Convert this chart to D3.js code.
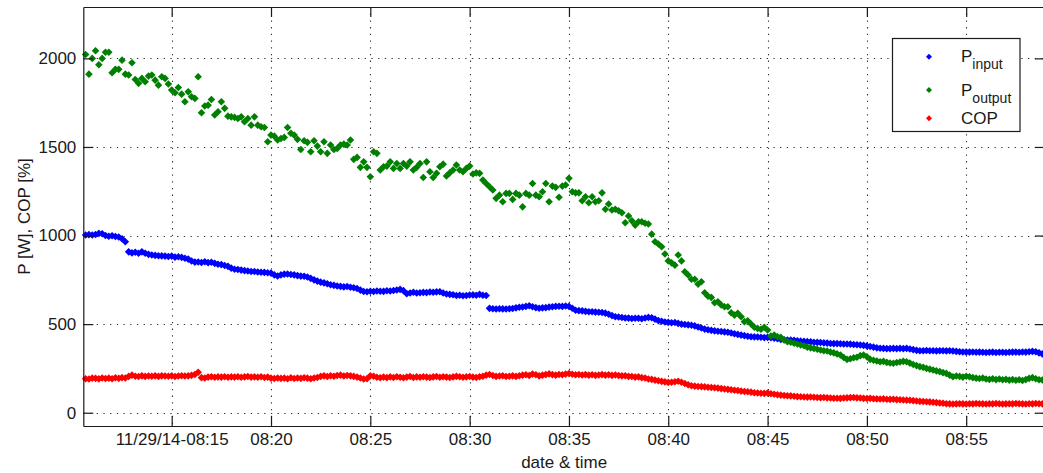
<!DOCTYPE html>
<html>
<head>
<meta charset="utf-8">
<script src="https://cdn.jsdelivr.net/npm/d3@7"></script>
<style>
  body { margin: 0; background: #fff; }
  text { font-family: "Liberation Sans", Arial, sans-serif; fill: #1a1a1a; }
</style>
</head>
<body>
<div class="draw"></div>
<script>
// samples every 10 s starting 11/29/14 08:10:40
const startTime = new Date(2014, 10, 29, 8, 10, 40);
const stepSeconds = 10;

const pInput = [
  1003,1005,1003,1006,1012,1010,1000,996,999,995,
  992,982,965,908,902,906,900,908,900,894,
  890,888,886,885,884,882,884,878,880,877,
  872,867,856,850,851,848,852,847,849,843,
  838,836,831,826,816,810,808,805,802,800,
  797,797,794,793,792,790,788,778,772,778,
  782,783,780,778,774,771,770,766,758,750,
  743,737,733,728,722,719,715,713,710,712,
  708,705,701,692,684,683,686,684,687,686,
  685,688,687,690,693,696,689,672,676,680,
  676,677,679,678,681,680,682,683,676,670,
  668,666,662,663,660,662,664,665,663,668,
  663,662,589,587,585,587,586,585,587,588,
  592,595,597,600,604,598,593,590,592,593,
  596,598,600,601,600,602,600,590,578,576,
  575,572,570,570,568,567,566,562,556,548,
  542,540,537,535,534,532,533,533,530,535,
  538,536,528,520,516,512,510,508,509,504,
  500,498,496,494,490,484,478,472,468,465,
  462,460,458,456,454,450,446,442,438,435,
  432,429,428,427,426,424,425,424,421,418,
  414,412,410,410,409,406,404,403,401,400,
  398,397,396,394,393,391,390,390,389,388,
  388,387,385,384,382,380,377,374,370,366,
  364,363,362,362,363,362,363,362,363,360,
  356,352,350,350,351,350,350,349,350,350,
  349,350,348,346,344,343,342,342,343,341,
  342,341,340,341,342,340,341,341,340,341,
  342,342,341,343,342,344,346,344,338,332
];

const pOutput = [
  2022,1911,2000,2043,1964,2000,2035,2035,1919,1938,
  1938,1990,1911,1906,1975,1881,1859,1887,1868,1900,
  1906,1877,1849,1896,1887,1855,1821,1806,1836,1798,
  1755,1811,1783,1774,1896,1693,1731,1736,1768,1680,
  1699,1755,1718,1674,1670,1667,1661,1670,1642,1661,
  1623,1670,1623,1614,1610,1529,1567,1561,1539,1548,
  1554,1610,1577,1567,1543,1486,1535,1526,1473,1535,
  1505,1473,1529,1464,1511,1486,1492,1511,1516,1511,
  1539,1430,1441,1385,1416,1385,1332,1473,1464,1370,
  1388,1392,1416,1379,1407,1379,1407,1392,1416,1370,
  1385,1407,1328,1416,1360,1328,1351,1388,1403,1336,
  1354,1370,1398,1370,1360,1379,1392,1347,1354,1351,
  1313,1294,1275,1257,1210,1228,1191,1238,1238,1204,
  1238,1228,1162,1238,1228,1294,1228,1219,1247,1294,
  1191,1279,1272,1216,1279,1285,1323,1247,1241,1241,
  1196,1219,1185,1219,1191,1196,1241,1148,1178,1144,
  1148,1140,1129,1072,1110,1083,1059,1078,1078,1069,
  1065,1008,965,952,937,896,857,846,833,890,
  857,796,777,753,753,726,739,677,658,651,
  621,626,608,598,598,564,551,561,542,514,
  519,501,482,476,471,482,467,433,438,429,
  425,410,401,398,392,388,382,378,370,366,
  363,358,354,350,348,342,338,332,326,312,
  301,305,310,313,322,326,316,301,296,292,
  288,290,284,281,279,283,286,290,288,280,
  272,266,260,256,250,246,241,236,232,226,
  222,212,203,207,205,201,206,203,198,195,
  193,196,190,188,192,187,190,186,188,184,
  187,183,186,182,187,194,198,192,186,185
];

const cop = [
  192,190,195,194,191,196,193,195,192,197,
  194,198,196,205,212,206,204,208,205,207,
  206,208,205,208,207,206,208,204,207,209,
  207,208,211,216,228,198,196,201,203,200,
  202,201,203,200,202,201,203,200,202,204,
  201,202,200,203,199,201,195,193,196,194,
  195,192,197,193,196,194,197,195,192,196,
  199,205,208,204,209,206,210,212,207,210,
  208,205,201,196,190,192,209,206,200,197,
  201,198,202,199,203,200,197,201,204,199,
  202,200,203,201,199,202,204,200,203,201,
  199,202,205,203,200,202,204,201,199,203,
  206,212,216,210,205,207,209,204,206,208,
  205,209,212,214,210,218,214,208,212,215,
  219,215,212,216,214,218,221,217,214,216,
  213,215,212,214,211,213,215,212,214,211,
  213,210,208,209,205,204,201,202,198,196,
  190,188,184,180,177,174,171,172,175,178,
  172,165,158,152,150,148,147,146,144,142,
  141,139,136,134,132,130,127,125,122,120,
  118,116,113,111,110,109,111,107,104,101,
  99,97,96,95,93,91,90,89,88,89,
  87,86,85,86,84,83,82,82,81,83,
  84,85,86,84,83,81,80,81,79,78,
  77,78,76,75,76,74,73,72,71,70,
  68,66,64,63,62,61,59,57,55,53,
  51,50,49,50,51,50,49,51,50,52,
  51,50,49,51,50,52,51,49,50,51,
  50,52,51,50,49,51,50,52,51,50
];

const xTickLabels = ["11/29/14-08:15", "08:20", "08:25", "08:30", "08:35", "08:40", "08:45", "08:50", "08:55"];
const xTickTimes = [15, 20, 25, 30, 35, 40, 45, 50, 55].map(m => new Date(2014, 10, 29, 8, m, 0));
const yTicks = [0, 500, 1000, 1500, 2000];

const seriesNames = ["input", "output", "COP"];
const seriesColors = ["#0000ff", "#008000", "#ff0000"];

const width = 1043, height = 473;
const plot = { left: 83.3, right: 1045, top: 7, bottom: 426 };

const svg = d3.select(".draw")
    .append("svg")
    .attr("width", width)
    .attr("height", height)
    .style("display", "block");

const x = d3.scaleTime()
    .domain([new Date(2014, 10, 29, 8, 10, 33), new Date(2014, 10, 29, 8, 58, 58)])
    .range([plot.left, plot.right]);
const y = d3.scaleLinear()
    .domain([-75, 2290])
    .range([plot.bottom, plot.top]);

const timeAt = i => new Date(startTime.getTime() + i * stepSeconds * 1000);

// dotted grid
const grid = svg.append("g")
    .attr("stroke", "#333")
    .attr("stroke-width", 1.1)
    .attr("stroke-dasharray", "1.3,5.4");
grid.selectAll(".vg").data(xTickTimes).enter().append("line")
    .attr("x1", d => Math.round(x(d)) + 0.5).attr("x2", d => Math.round(x(d)) + 0.5)
    .attr("y1", plot.top).attr("y2", plot.bottom);
grid.selectAll(".hg").data(yTicks).enter().append("line")
    .attr("y1", d => Math.round(y(d)) + 0.5).attr("y2", d => Math.round(y(d)) + 0.5)
    .attr("x1", plot.left).attr("x2", plot.right);

// markers
const diamond = "M0,-3.8L3.8,0L0,3.8L-3.8,0Z";
const series = [pInput, pOutput, cop];
series.forEach((vals, s) => {
  svg.append("g")
    .attr("fill", seriesColors[s])
    .selectAll("path")
    .data(vals)
    .enter()
    .append("path")
    .attr("d", diamond)
    .attr("transform", (d, i) => `translate(${x(timeAt(i))},${y(d)})`);
});

// axes (box with inward ticks)
const xAxisBottom = d3.axisBottom(x)
    .tickValues(xTickTimes)
    .tickFormat((d, i) => xTickLabels[i])
    .tickSizeInner(-10)
    .tickSizeOuter(0)
    .tickPadding(7);
const xAxisTop = d3.axisTop(x).tickValues(xTickTimes).tickFormat("").tickSizeInner(-10).tickSizeOuter(0);
const yAxisLeft = d3.axisLeft(y)
    .tickValues(yTicks)
    .tickFormat(d => String(d))
    .tickSizeInner(-10)
    .tickSizeOuter(0)
    .tickPadding(7);
const yAxisRight = d3.axisRight(y).tickValues(yTicks).tickFormat("").tickSizeInner(-10).tickSizeOuter(0);

const gB = svg.append("g").attr("transform", `translate(0,${plot.bottom})`).call(xAxisBottom);
const gT = svg.append("g").attr("transform", `translate(0,${plot.top})`).call(xAxisTop);
const gL = svg.append("g").attr("transform", `translate(${plot.left},0)`).call(yAxisLeft);
const gR = svg.append("g").attr("transform", `translate(${plot.right},0)`).call(yAxisRight);

[gB, gT, gL, gR].forEach(g => {
  g.selectAll("path, line").attr("stroke", "#1a1a1a").attr("stroke-width", 1.2);
  g.selectAll("text").style("font-size", "17px").attr("fill", "#1a1a1a");
});

// axis labels
svg.append("text")
    .attr("x", (plot.left + plot.right) / 2)
    .attr("y", 468)
    .attr("text-anchor", "middle")
    .style("font-size", "17px")
    .text("date & time");

svg.append("text")
    .attr("transform", `translate(30,${(plot.top + plot.bottom) / 2}) rotate(-90)`)
    .attr("text-anchor", "middle")
    .style("font-size", "17px")
    .text("P [W], COP [%]");

// legend
const legend = svg.append("g");
legend.append("rect")
    .attr("x", 892.5).attr("y", 38.5)
    .attr("width", 127.5).attr("height", 93)
    .attr("fill", "#fff")
    .attr("stroke", "#1a1a1a")
    .attr("stroke-width", 1.2);

const legendRows = [56.7, 90, 118.3];
legendRows.forEach((ry, i) => {
  legend.append("path")
    .attr("d", "M0,-3L3,0L0,3L-3,0Z")
    .attr("fill", seriesColors[i])
    .attr("transform", `translate(929,${ry})`);
  const t = legend.append("text")
    .attr("x", 961)
    .attr("y", ry + 5.5)
    .style("font-size", "17px");
  if (i < 2) {
    t.append("tspan").text("P");
    t.append("tspan").attr("dy", 7).style("font-size", "14px").text(seriesNames[i]);
  } else {
    t.text(seriesNames[i]);
  }
});
</script>
</body>
</html>
